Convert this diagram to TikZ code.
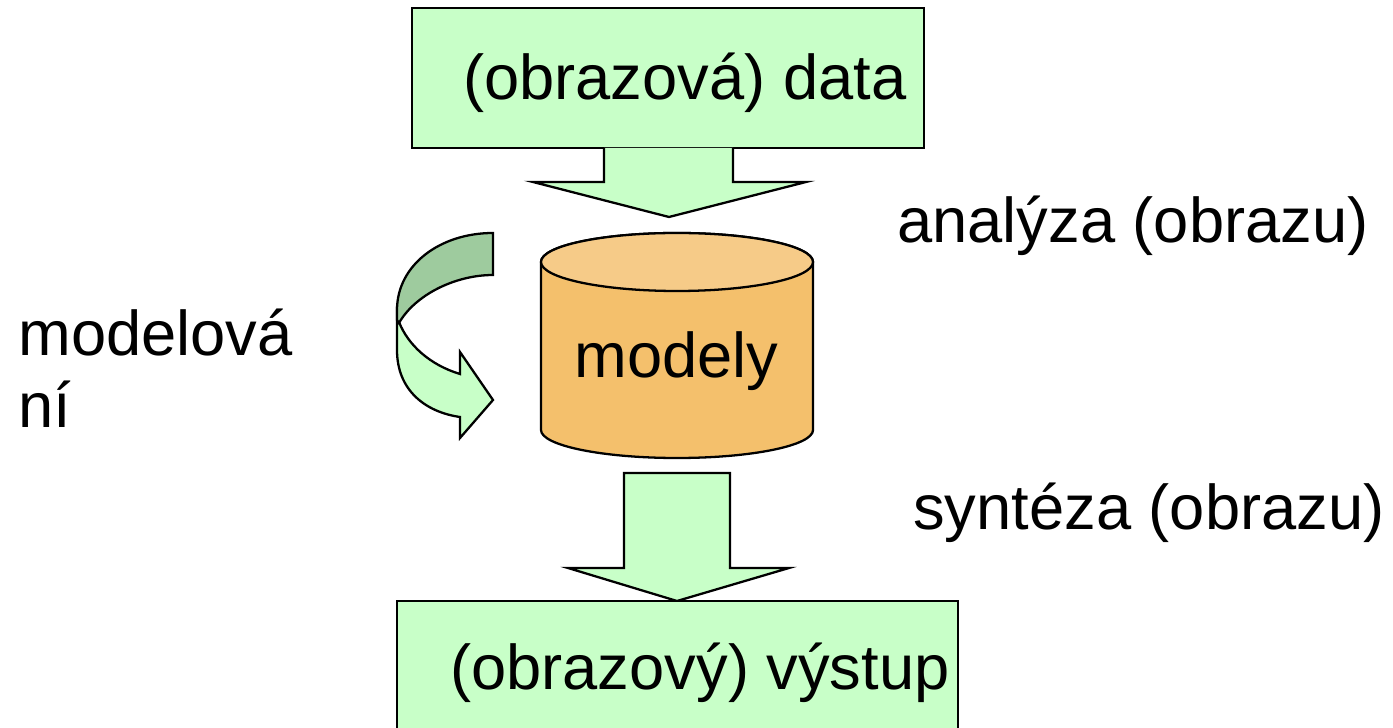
\documentclass[tikz,border=0pt]{standalone}
\usepackage{fontspec}
\setmainfont{Liberation Sans}
\definecolor{lgreen}{HTML}{C8FFC8}
\definecolor{dgreen}{HTML}{9ECB9E}
\definecolor{cylbody}{HTML}{F4C06C}
\definecolor{cyltop}{HTML}{F6CB88}
\begin{document}
\begin{tikzpicture}[x=0.02cm,y=0.02cm,
  outl/.style={draw=black,line width=1.3pt,line join=miter},
  lbl/.style={anchor=base west,inner sep=0pt,font=\fontsize{36}{43}\selectfont}]
\useasboundingbox (0,0) rectangle (1393,727);
% top box
\draw[outl,fill=lgreen] (412,719) rectangle (924,579);
\node[lbl] (data) at (463,627) {(obrazová) data};
% top block arrow
\fill[lgreen] (604,579) -- (604,545) -- (533,545) -- (669,510) -- (806,545) -- (733,545) -- (733,579) -- cycle;
\draw[outl] (604,579) -- (604,545) -- (533,545) -- (669,510) -- (806,545) -- (733,545) -- (733,579);
% cylinder
\draw[outl,fill=cylbody] (541,465) -- (541,297) arc[start angle=180,end angle=360,x radius=136,y radius=28] -- (813,465) arc[start angle=0,end angle=180,x radius=136,y radius=29] -- cycle;
\draw[outl,fill=cyltop] (677,465) ellipse [x radius=136,y radius=29];
\node[lbl] (modely) at (574,349) {modely};
% bottom block arrow
\draw[outl,fill=lgreen] (624,254) -- (624,159) -- (568,159) -- (677,126) -- (789,159) -- (730,159) -- (730,254) -- cycle;
% bottom box
\draw[outl,fill=lgreen] (397,126) rectangle (958,-30);
\node[lbl] (vystup) at (450,37) {(obrazový) výstup};
% curved arrow: front (light) part
\draw[outl,fill=lgreen] (397,420) -- (397,377) .. controls (397,337) and (425,315) .. (460,310) -- (460,289) -- (493,327) -- (460,375) -- (460,353) .. controls (430,362) and (408,382) .. (399,405) -- cycle;
% curved arrow: back (dark) part
\draw[outl,fill=dgreen] (493,494) .. controls (440,494) and (397,462) .. (397,417) -- (397,407) -- (399,404) .. controls (415,432) and (455,452) .. (493,452) -- cycle;
% labels
\node[lbl] (analyza) at (897,484) {analýza (obrazu)};
\node[lbl] (model1) at (18,371) {modelová};
\node[lbl] (model2) at (18,299) {ní};
\node[lbl] (synteza) at (913,197) {syntéza (obrazu)};
\end{tikzpicture}
\end{document}
